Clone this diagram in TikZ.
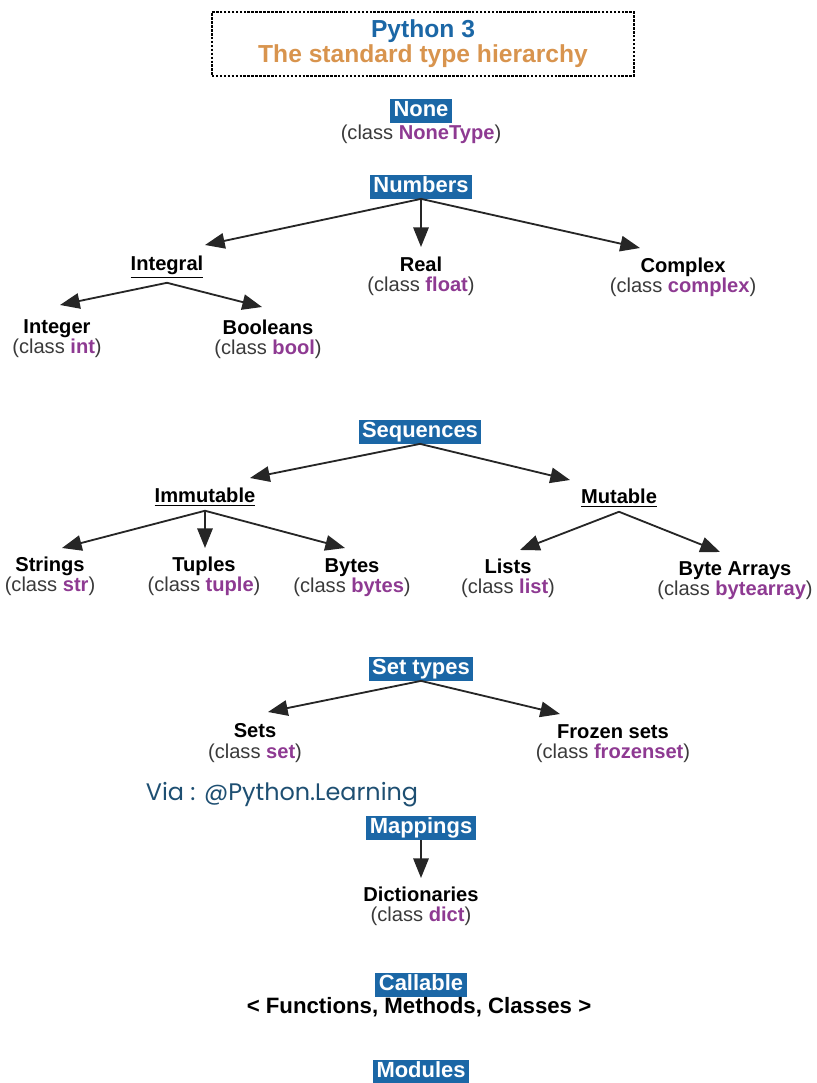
\documentclass[tikz,border=0pt]{standalone}
\usepackage{fontspec}
\setmainfont{Liberation Sans}
\newfontfamily\viafont{Poppins}
\usepackage{tikz}
\usetikzlibrary{arrows.meta,positioning,calc}
\definecolor{pyblue}{HTML}{1B67A6}
\definecolor{pyorange}{HTML}{D8944E}
\definecolor{plum}{HTML}{8E3A92}
\definecolor{txtgray}{HTML}{3A3A3A}
\definecolor{viablue}{HTML}{1E4F72}
\newcommand{\cls}[1]{{\color{txtgray}(class \textcolor{plum}{\bfseries #1})}}

\begin{document}
\begin{tikzpicture}[x=0.025cm,y=-0.025cm,font=\fontsize{14.3}{14.4}\selectfont,
  cat/.style={fill=pyblue,text=white,font=\fontsize{15.6}{15.6}\selectfont\bfseries,
    inner xsep=2.5pt,inner ysep=1pt,text height=11.5pt,text depth=3pt},
  kind/.style={font=\fontsize{14.3}{14.4}\selectfont\bfseries},
  leaf/.style={align=center},
  link/.style={draw=black!85,line width=1.3pt,-{Triangle[length=14pt,width=11pt]}}]
\useasboundingbox (0,0) rectangle (816,1083);

% title
\node[draw,densely dotted,line width=1.8pt,minimum width=10.55cm,minimum height=1.6cm,
  align=center,font=\fontsize{17.5}{17.8}\selectfont\bfseries] (title) at (423,44)
  {{\color{pyblue}Python 3}\\{\color{pyorange}The standard type hierarchy}};

% none
\node[cat] (none) at (421,111) {None};
\node[leaf] (nonetype) at (421,134) {\cls{NoneType}};

% numbers
\node[cat] (numbers) at (421,187) {Numbers};
\node[kind] (integral) at (167,267) {\underline{Integral}};
\node[leaf] (real) at (421,276.5) {\textbf{Real}\\\cls{float}};
\node[leaf] (complex) at (683,277.5) {\textbf{Complex}\\\cls{complex}};
\node[leaf] (integer) at (57,338.5) {\textbf{Integer}\\\cls{int}};
\node[leaf] (booleans) at (268,339) {\textbf{Booleans}\\\cls{bool}};

\draw[link] (numbers.south) -- ($(integral)+(38,-22)$);
\draw[link] (numbers.south) -- ($(real)+(0,-29.5)$);
\draw[link] (numbers.south) -- ($(complex)+(-43,-29.5)$);
\draw[link] (integral.south) -- ($(integer)+(3,-33.5)$);
\draw[link] (integral.south) -- ($(booleans)+(-6,-32)$);

% sequences
\node[cat] (sequences) at (420,432) {Sequences};
\node[kind] (immutable) at (205,497) {\underline{Immutable}};
\node[kind] (mutable) at (619,498) {\underline{Mutable}};
\node[leaf] (strings) at (50,576) {\textbf{Strings}\\\cls{str}};
\node[leaf] (tuples) at (204,576.5) {\textbf{Tuples}\\\cls{tuple}};
\node[leaf] (bytes) at (352,577.5) {\textbf{Bytes}\\\cls{bytes}};
\node[leaf] (lists) at (508,578.5) {\textbf{Lists}\\\cls{list}};
\node[leaf] (bytearrays) at (735,580.5) {\textbf{Byte Arrays}\\\cls{bytearray}};

\draw[link] (sequences.south) -- ($(immutable)+(45,-19)$);
\draw[link] (sequences.south) -- ($(mutable)+(-49,-18)$);
\draw[link] (immutable.south) -- ($(strings)+(12,-28)$);
\draw[link] (immutable.south) -- ($(tuples)+(1,-28.5)$);
\draw[link] (immutable.south) -- ($(bytes)+(-7,-29.5)$);
\draw[link] (mutable.south) -- ($(lists)+(12,-28.5)$);
\draw[link] (mutable.south) -- ($(bytearrays)+(-15,-28.5)$);

% set types
\node[cat] (settypes) at (421,669) {Set types};
\node[leaf] (sets) at (255,743) {\textbf{Sets}\\\cls{set}};
\node[leaf] (frozensets) at (613,743.5) {\textbf{Frozen sets}\\\cls{frozenset}};

\draw[link] (settypes.south) -- ($(sets)+(13,-31)$);
\draw[link] (settypes.south) -- ($(frozensets)+(-53,-29.5)$);

\node[font=\viafont\fontsize{17}{18}\selectfont,text=viablue] (via) at (282,795) {Via : @Python.Learning};

% mappings
\node[cat] (mappings) at (421,828) {Mappings};
\node[leaf] (dicts) at (421,906) {\textbf{Dictionaries}\\\cls{dict}};
\draw[link] (mappings.south) -- ($(dicts)+(0,-28)$);

% callable, modules
\node[cat] (callable) at (421,985) {Callable};
\node[font=\fontsize{15.8}{16}\selectfont\bfseries] (funcs) at (419,1007) {< Functions, Methods, Classes >};
\node[cat] (modules) at (421,1072) {Modules};
\end{tikzpicture}
\end{document}
